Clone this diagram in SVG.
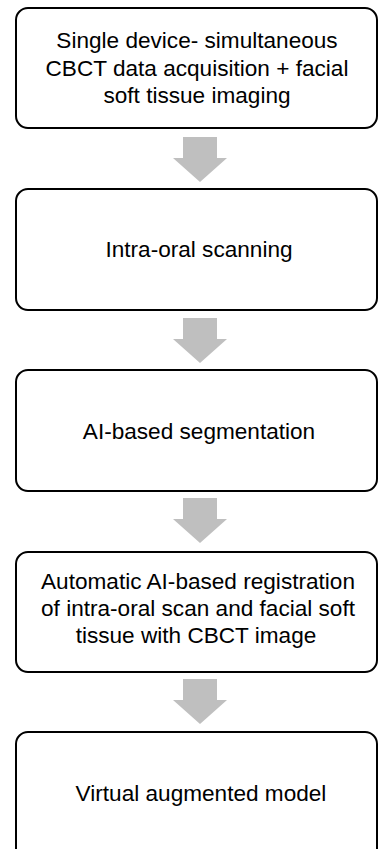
<svg xmlns="http://www.w3.org/2000/svg" width="378" height="849" viewBox="0 0 378 849">
  <defs>
    <style>
      .box { fill: #ffffff; stroke: #000000; stroke-width: 2; }
      .lbl { font-family: "Liberation Sans", Arial, sans-serif; font-size: 22.6px; fill: #000000; text-anchor: middle; }
      .arrow { fill: #bfbfbf; }
    </style>
    <!-- block arrow pointing down, origin at the top of the shaft -->
    <path id="down" class="arrow" d="M -17 0 H 17 V 21 H 27 L 0 45 L -27 21 H -17 Z"/>
  </defs>
  <rect width="378" height="849" fill="#ffffff"/>

  <g id="connectors">
    <use href="#down" x="200" y="137"/>
    <use href="#down" x="200" y="318"/>
    <use href="#down" x="200" y="498"/>
    <use href="#down" x="200" y="679"/>
  </g>

  <g id="acquisition">
    <rect class="box" x="16" y="8" width="361" height="120" rx="12"/>
    <text class="lbl" x="197" y="48">Single device- simultaneous</text>
    <text class="lbl" x="197" y="75.5">CBCT data acquisition + facial</text>
    <text class="lbl" x="197" y="103">soft tissue imaging</text>
  </g>

  <g id="scanning">
    <rect class="box" x="16" y="189" width="361" height="121" rx="12"/>
    <text class="lbl" x="199" y="257">Intra-oral scanning</text>
  </g>

  <g id="segmentation">
    <rect class="box" x="16" y="370" width="361" height="121" rx="12"/>
    <text class="lbl" x="199" y="439">AI-based segmentation</text>
  </g>

  <g id="registration">
    <rect class="box" x="16" y="552" width="361" height="120" rx="12"/>
    <text class="lbl" x="198" y="589">Automatic AI-based registration</text>
    <text class="lbl" x="198" y="616">of intra-oral scan and facial soft</text>
    <text class="lbl" x="196" y="643">tissue with CBCT image</text>
  </g>

  <g id="model">
    <rect class="box" x="16" y="732" width="361" height="130" rx="12"/>
    <text class="lbl" x="201" y="801">Virtual augmented model</text>
  </g>
</svg>
